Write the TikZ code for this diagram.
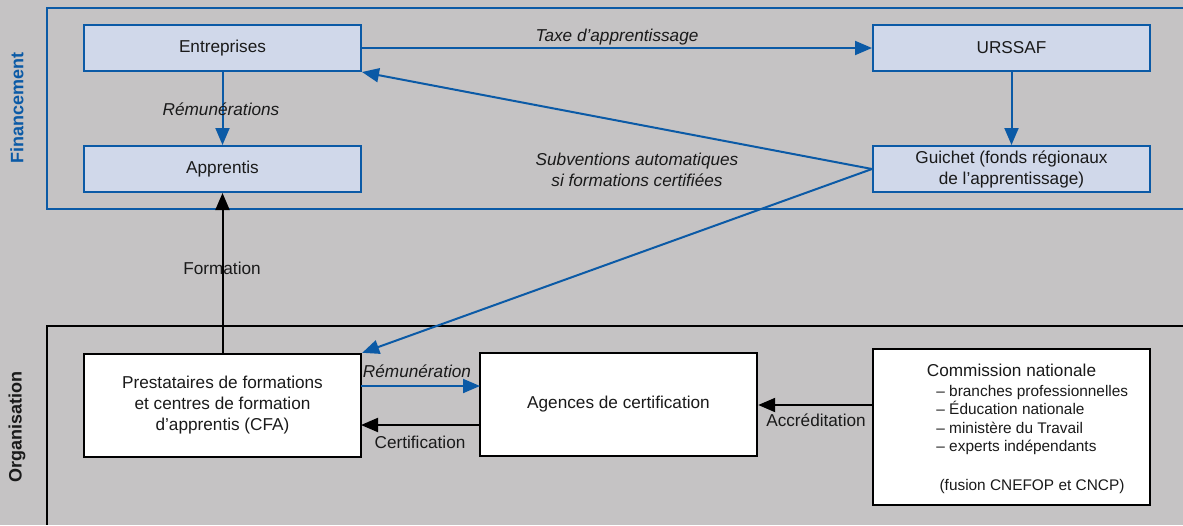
\documentclass[tikz,border=0pt]{standalone}
\usepackage{fontspec}
\setmainfont{Liberation Sans}
\usetikzlibrary{arrows.meta}
\definecolor{bg}{HTML}{C5C3C4}
\definecolor{fblue}{HTML}{0B5AA6}
\definecolor{boxblue}{HTML}{D0D8EA}
\definecolor{ink}{HTML}{1A1A1A}
\tikzset{
  fbox/.style={draw=fblue, fill=boxblue, line width=1pt, minimum width=138.5pt, minimum height=23pt, inner sep=0pt, text=ink, font=\fontsize{8.6}{10.5}\selectfont, align=center},
  obox/.style={draw=black, fill=white, line width=1.2pt, minimum width=138.5pt, inner sep=0pt, text=ink, font=\fontsize{8.6}{10.5}\selectfont, align=center},
  barrow/.style={draw=fblue, line width=1pt, -{Triangle[length=8.5pt,width=7pt]}},
  karrow/.style={draw=black, line width=1pt, -{Triangle[length=8.5pt,width=7pt]}},
  lab/.style={text=ink, font=\fontsize{8.6}{10.5}\selectfont, inner sep=0pt, align=center},
  ilab/.style={lab, font=\fontsize{8.6}{10.5}\selectfont\itshape},
  side/.style={rotate=90, font=\fontsize{9}{10}\selectfont\bfseries, inner sep=0pt}
}
\begin{document}
\begin{tikzpicture}[x=0.5pt,y=-0.5pt]
\useasboundingbox (0,0) rectangle (1183,525);
\fill[bg] (0,0) rectangle (1183,525);
% frames
\draw[fblue, line width=1pt] (1183,8) -- (47,8) -- (47,209) -- (1183,209);
\draw[black, line width=1.1pt] (1183,326) -- (47,326) -- (47,525);
\node[side, text=fblue] (fin) at (17,108) {Financement};
\node[side, text=ink] (org) at (17,427) {Organisation};
% boxes
\node[fbox] (ent) at (222.5,48) {Entreprises};
\node[fbox] (app) at (222.5,169) {Apprentis};
\node[fbox] (urs) at (1011.5,48) {URSSAF};
\node[fbox] (gui) at (1011.5,169) {Guichet (fonds régionaux\\de l’apprentissage)};
\node[obox, minimum height=51.5pt] (pre) at (222.5,405.5) {Prestataires de formations\\et centres de formation\\d’apprentis (CFA)};
\node[obox, minimum height=51.5pt] (age) at (618.5,404.5) {Agences de certification};
\node[obox, minimum height=78pt] (com) at (1011.5,427) {};
\node[lab] (comt) at (1011.5,370) {Commission nationale};
\node[lab, anchor=west, font=\fontsize{7.7}{9.2}\selectfont, align=left] (coml) at (936,420) {– branches professionnelles\\– Éducation nationale\\– ministère du Travail\\– experts indépendants};
\node[lab, font=\fontsize{7.7}{9.2}\selectfont] (comf) at (1032,487) {(fusion CNEFOP et CNCP)};
% connectors
\draw[barrow] (ent.east) -- (urs.west);
\node[ilab] (taxe) at (617,37) {Taxe d’apprentissage};
\draw[barrow] (ent.south) -- (app.north);
\node[ilab] (rems) at (221,109) {Rémunérations};
\draw[barrow] (urs.south) -- (gui.north);
\draw[barrow] (gui.west) -- (ent.south east);
\draw[barrow] (gui.west) -- (pre.north east);
\node[ilab] (sub) at (637,170) {Subventions automatiques\\si formations certifiées};
\node[lab] (form) at (222,268) {Formation};
\draw[karrow] (pre.north) -- (app.south);
\coordinate (remA) at (361,386);
\coordinate (remB) at (480,386);
\draw[barrow] (remA) -- (remB);
\node[ilab] (rem) at (417,371) {Rémunération};
\coordinate (cerA) at (480,425);
\coordinate (cerB) at (361,425);
\draw[karrow] (cerA) -- (cerB);
\node[lab] (cer) at (420,442) {Certification};
\draw[karrow] (com.west |- 0,405) -- (age.east |- 0,405);
\node[lab] (acc) at (816,420) {Accréditation};
\end{tikzpicture}
\end{document}
